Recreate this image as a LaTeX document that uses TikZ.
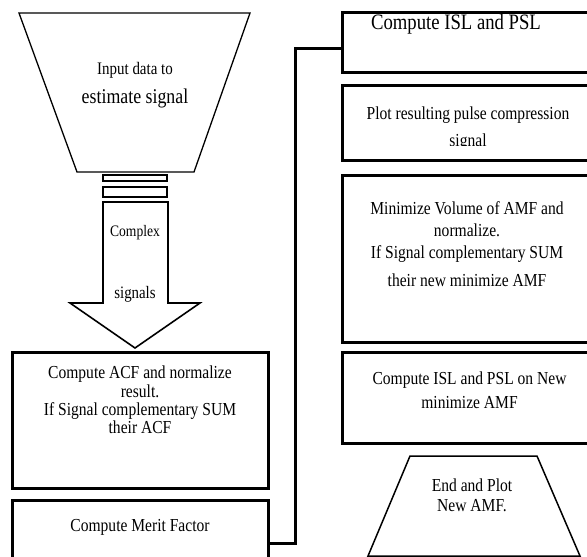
\documentclass[tikz,border=0pt]{standalone}
\usepackage{fontspec}
\setmainfont[FakeStretch=0.85]{Liberation Serif}
\usetikzlibrary{calc}
\newcommand{\fs}[2]{\fontsize{#1}{#2}\selectfont}
\tikzset{
  boxst/.style={draw, line width=3pt, inner sep=0pt, rectangle},
  txt/.style={align=center, inner sep=0pt, font=\fs{18.3}{18.3}},
  thinshape/.style={draw, line width=1.3pt, line join=miter},
  conn/.style={draw, line width=3pt, line join=miter}
}
\begin{document}
\begin{tikzpicture}[x=1pt,y=-1pt]
\clip (0,0) rectangle (587,557);
\fill[white] (0,0) rectangle (587,557);
% input trapezoid
\draw[thinshape] (19,13) coordinate (inTL) -- (250,13) -- (194,172) coordinate (inBR) -- (77,172) -- cycle;
\node[txt, font=\fs{17.6}{20}] (inA) at (135,70) {Input data to};
\node[txt, font=\fs{21}{24}] (inB) at (135,98) {estimate signal};
% bars
\node[draw, line width=2pt, minimum width=64, minimum height=6, inner sep=0pt] (bar1) at (135,177.5) {};
\node[draw, line width=2pt, minimum width=64, minimum height=10, inner sep=0pt] (bar2) at (135,191.5) {};
% block arrow
\draw[line width=1.6pt, line join=miter] (103,202) -- (103,303) -- (70,303) -- (135,348) coordinate (tip) -- (200,303) -- (168,303) -- (168,202) -- cycle;
\node[txt, font=\fs{16}{18}] (cx) at (135,233) {Complex};
\node[txt, font=\fs{17.5}{20}] (sg) at (135,294) {signals};
% ACF box
\node[boxst, minimum width=256, minimum height=136] (acf) at (140,420) {};
\node[txt] (acft) at (140,400) {Compute ACF and normalize\\result.\\If Signal complementary SUM\\their ACF};
% Merit box
\node[boxst, minimum width=256, minimum height=86] (merit) at (140,543) {};
\node[txt] (meritt) at (140,527) {Compute Merit Factor};
% right column
\node[boxst, minimum width=258, minimum height=60] (isl) at (471,42) {};
\node[txt, font=\fs{22}{24}] (islt) at (456,24) {Compute ISL and PSL};
\node[boxst, minimum width=258, minimum height=75] (plot) at (471,122.5) {};
\begin{scope}
\clip (342,88) rectangle (587,145.5);
\node[txt, font=\fs{18.3}{27}] (plott) at (468,129) {Plot resulting pulse compression\\signal};
\end{scope}
\node[boxst, minimum width=258, minimum height=167] (mini) at (471,258.5) {};
\node[txt, font=\fs{18.3}{22}] (minit) at (467,244) {Minimize Volume of AMF and\\normalize.\\If Signal complementary SUM\\[6pt]their new minimize AMF};
\node[boxst, minimum width=258, minimum height=91] (islnew) at (471,397.5) {};
\node[txt, font=\fs{18.3}{24}] (islnewt) at (469.5,390) {Compute ISL and PSL on New\\minimize AMF};
% end trapezoid
\draw[line width=1.5pt, line join=miter] (410,456) coordinate (endTL) -- (537,456) -- (580,556) -- (368,556) -- cycle;
\node[txt, font=\fs{18.3}{20}] (endt) at (472,495) {End and Plot\\New AMF.};
% connector
\draw[conn] (merit.east) -- ++(26,0) |- ($(isl.west)+(0,6)$);
\end{tikzpicture}
\end{document}
